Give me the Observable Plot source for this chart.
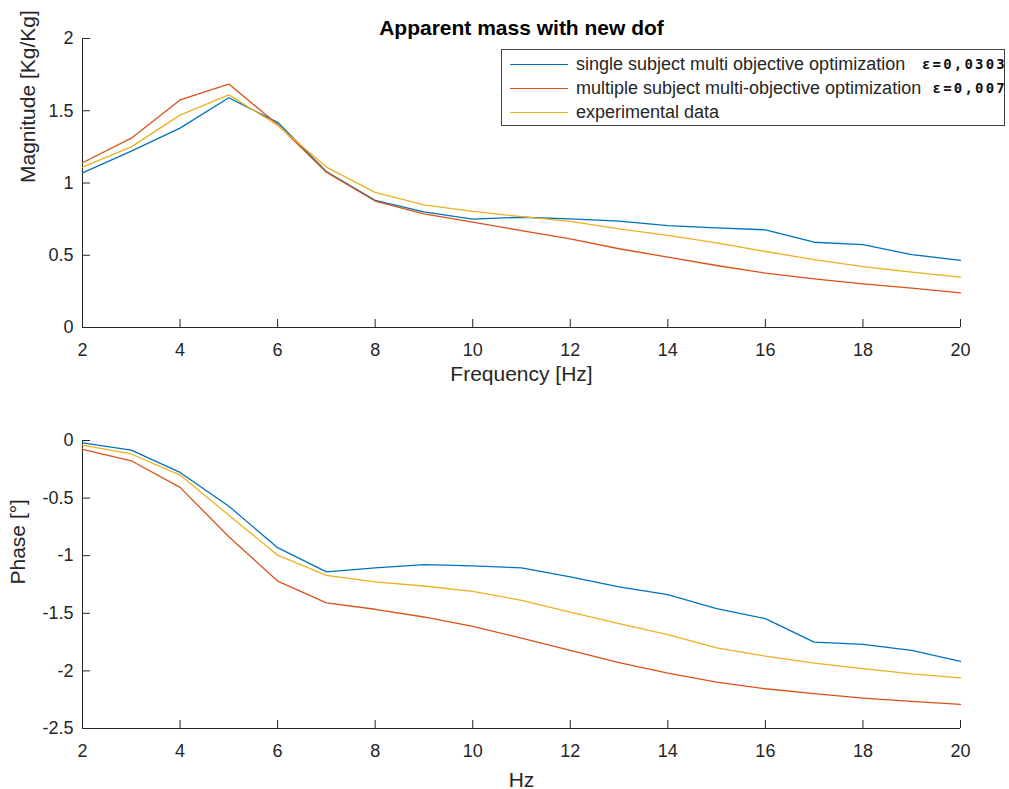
<!DOCTYPE html>
<html>
<head>
<meta charset="utf-8">
<script src="https://cdn.jsdelivr.net/npm/d3@7"></script>
<script src="https://cdn.jsdelivr.net/npm/@observablehq/plot@0.6"></script>
<style>
  body { margin: 0; background: #fff; }
  #wrap { position: relative; width: 1009px; height: 789px; font-family: "Liberation Sans", Arial, sans-serif; color: #262626; background: #fff; overflow: hidden; }
  .chart { position: absolute; left: 0; }
  #legend { position: absolute; left: 501px; top: 49px; width: 504px; height: 77px; border: 1px solid #404040; box-sizing: border-box; background: #fff; }
  .row { position: absolute; left: 8px; height: 22px; display: flex; align-items: center; font-size: 18px; color: #262626; white-space: nowrap; }
  .swatch { width: 58px; height: 0; border-top: 1.3px solid; margin-right: 8px; }
  .eps { position: absolute; right: 2px; height: 20px; line-height: 20px; font-family: "DejaVu Sans Mono", monospace; font-weight: bold; font-size: 14px; letter-spacing: 2.2px; color: #111; white-space: nowrap; }
</style>
</head>
<body>
<div id="wrap">
  <div id="top" class="chart" style="top:0px"></div>
  <div id="bottom" class="chart" style="top:395px"></div>
  <div id="legend"></div>
</div>
<script>
// ---- data ----
const freq = [2, 3, 4, 5, 6, 7, 8, 9, 10, 11, 12, 13, 14, 15, 16, 17, 18, 19, 20];
const seriesNames = [
  "single subject multi objective optimization",
  "multiple subject multi-objective optimization",
  "experimental data"
];
const errorLabels = ["ε=0,0303", "ε=0,007", ""];
const seriesColors = ["#0072BD", "#D95319", "#EDB120"];

const magSingle   = [1.07, 1.22, 1.38, 1.59, 1.42, 1.08, 0.88, 0.80, 0.75, 0.763, 0.752, 0.736, 0.705, 0.69, 0.676, 0.59, 0.574, 0.505, 0.464];
const magMultiple = [1.14, 1.31, 1.575, 1.685, 1.405, 1.075, 0.875, 0.787, 0.729, 0.671, 0.614, 0.545, 0.487, 0.429, 0.376, 0.337, 0.302, 0.272, 0.24];
const magExp      = [1.11, 1.25, 1.47, 1.61, 1.40, 1.11, 0.935, 0.849, 0.803, 0.768, 0.734, 0.683, 0.637, 0.586, 0.526, 0.47, 0.422, 0.383, 0.348];

const phaseSingle   = [-0.02, -0.083, -0.277, -0.57, -0.93, -1.14, -1.106, -1.077, -1.089, -1.106, -1.184, -1.271, -1.337, -1.46, -1.546, -1.75, -1.77, -1.822, -1.917];
const phaseMultiple = [-0.077, -0.176, -0.407, -0.836, -1.22, -1.41, -1.465, -1.532, -1.613, -1.715, -1.822, -1.929, -2.02, -2.097, -2.155, -2.198, -2.236, -2.265, -2.291];
const phaseExp      = [-0.04, -0.117, -0.30, -0.648, -0.995, -1.17, -1.228, -1.263, -1.309, -1.387, -1.489, -1.59, -1.685, -1.80, -1.871, -1.932, -1.98, -2.025, -2.06];

const xTicks = [2, 4, 6, 8, 10, 12, 14, 16, 18, 20];
const magTicks = [0, 0.5, 1, 1.5, 2];
const phaseTicks = [0, -0.5, -1, -1.5, -2, -2.5];

const titleText = "Apparent mass with new dof";
const magXLabel = "Frequency [Hz]";
const magYLabel = "Magnitude [Kg/Kg]";
const phaseXLabel = "Hz";
const phaseYLabel = "Phase [°]";

// ---- build tables ----
function table(seriesList) {
  const out = [];
  seriesList.forEach((vals, si) => vals.forEach((v, i) => out.push({ f: freq[i], v, s: seriesNames[si] })));
  return out;
}
const magData = table([magSingle, magMultiple, magExp]);
const phaseData = table([phaseSingle, phaseMultiple, phaseExp]);

const axisColor = "#262626";
const baseStyle = { fontFamily: "'Liberation Sans', Arial, sans-serif", fontSize: "18px", color: axisColor, background: "transparent", overflow: "visible" };
const fmt = d => String(d);

function panel({ data, height, marginTop, marginBottom, yDomain, yTicks, xLabel, yLabel, xLabelDy, yLabelDx, title }) {
  const marks = [
    Plot.axisX({ ticks: xTicks, tickSize: -8, tickPadding: 24, tickFormat: fmt, label: null }),
    Plot.axisY({ ticks: yTicks, tickSize: -8, tickPadding: 17, tickFormat: fmt, label: null }),
    Plot.ruleY([yDomain[0]], { stroke: axisColor, strokeWidth: 1 }),
    Plot.ruleX([freq[0]], { stroke: axisColor, strokeWidth: 1 }),
    Plot.line(data, { x: "f", y: "v", z: "s", stroke: "s", strokeWidth: 1.3 }),
    Plot.text([xLabel], { text: d => d, frameAnchor: "bottom", dy: xLabelDy, fontSize: 21, fill: axisColor }),
    Plot.text([yLabel], { text: d => d, frameAnchor: "left", dx: yLabelDx, rotate: -90, fontSize: 21, fill: axisColor })
  ];
  if (title) marks.push(Plot.text([title], { text: d => d, frameAnchor: "top", dy: -18, fontSize: 21, fontWeight: "bold", fill: "#000" }));
  return Plot.plot({
    width: 1009, height, marginLeft: 82, marginRight: 49, marginTop, marginBottom,
    style: baseStyle,
    x: { domain: [freq[0], freq[freq.length - 1]] },
    y: { domain: yDomain },
    color: { domain: seriesNames, range: seriesColors },
    marks
  });
}

document.getElementById("top").appendChild(panel({
  data: magData, height: 395, marginTop: 38, marginBottom: 68,
  yDomain: [0, 2], yTicks: magTicks, xLabel: magXLabel, yLabel: magYLabel,
  xLabelDy: 53, yLabelDx: -54, title: titleText
}));
document.getElementById("bottom").appendChild(panel({
  data: phaseData, height: 394, marginTop: 45, marginBottom: 61,
  yDomain: [-2.5, 0], yTicks: phaseTicks, xLabel: phaseXLabel, yLabel: phaseYLabel,
  xLabelDy: 58, yLabelDx: -64, title: null
}));

// ---- legend (inside the upper axes) ----
const legend = document.getElementById("legend");
const rowCenters = [14, 38.5, 62];
seriesNames.forEach((name, i) => {
  const row = document.createElement("div");
  row.className = "row";
  row.style.top = (rowCenters[i] - 11) + "px";
  const sw = document.createElement("div");
  sw.className = "swatch";
  sw.style.borderTopColor = seriesColors[i];
  const lab = document.createElement("span");
  lab.textContent = name;
  row.appendChild(sw); row.appendChild(lab);
  legend.appendChild(row);
});
const wrap = document.getElementById("wrap");
const epsCenters = [64, 88];
errorLabels.forEach((t, i) => {
  if (!t) return;
  const e = document.createElement("div");
  e.className = "eps";
  e.style.top = (epsCenters[i] - 10) + "px";
  e.textContent = t;
  wrap.appendChild(e);
});
</script>
</body>
</html>
